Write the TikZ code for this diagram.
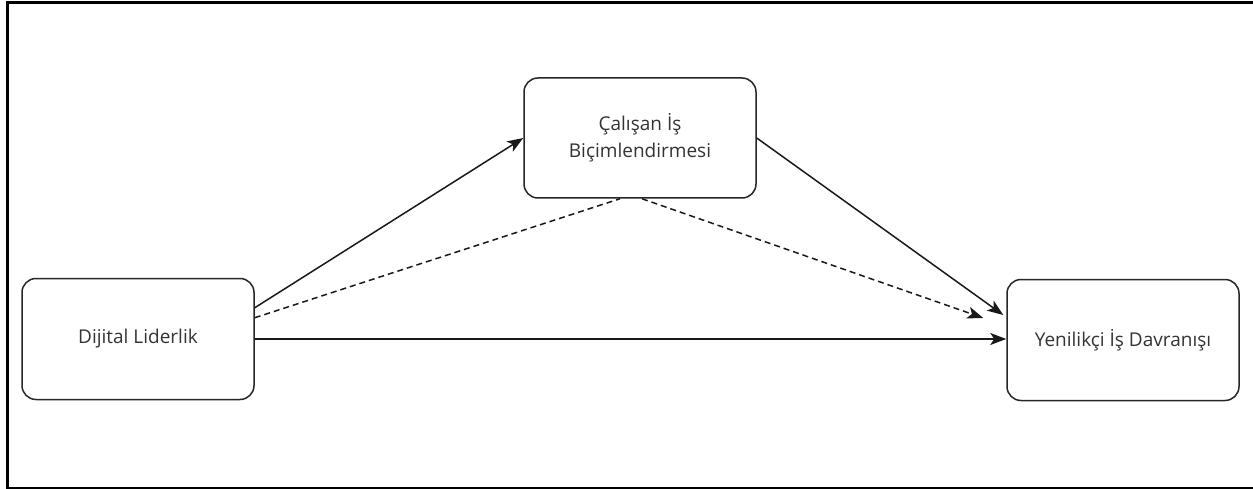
\documentclass[tikz,border=0pt]{standalone}
\usepackage{fontspec}
\setmainfont{Open Sans}
\usetikzlibrary{arrows.meta,calc}
\begin{document}
\begin{tikzpicture}[x=1pt,y=-1pt,
  box/.style={draw=black!85,line width=1.5pt,rounded corners=14pt,minimum width=232pt,minimum height=121pt,align=center,inner sep=0pt,text=black!80,font=\fontsize{19}{27}\selectfont},
  conn/.style={draw=black!90,line width=1.5pt,-{Stealth[length=16pt,width=12pt,inset=4pt]}},
  dconn/.style={conn,dash pattern=on 6pt off 4pt},
  dline/.style={draw=black!90,line width=1.5pt,dash pattern=on 6pt off 4pt},
  frame/.style={draw=black,line width=3pt}]
\useasboundingbox (0,0) rectangle (1253,489);
\draw[frame] (1253,3) -- (7,3) -- (7,488) -- (1253,488);
\node[box] (dl) at (138,339) {Dijital Liderlik};
\node[box,minimum height=120pt] (cib) at (640,138) {Çalışan İş\\Biçimlendirmesi};
\node[box] (yid) at (1123,340) {Yenilikçi İş Davranışı};
\draw[conn] ([yshift=-30pt]dl.north east) -- (cib.west);
\draw[dline] ([yshift=-40pt]dl.north east) -- ([xshift=-20pt]cib.south);
\draw[dconn] ([xshift=2pt]cib.south) -- ([xshift=-23pt,yshift=22pt]yid.west);
\draw[conn] (cib.east) -- ([xshift=-3pt,yshift=25pt]yid.west);
\draw[conn] (dl.east) -- (dl.east -| yid.west);
\end{tikzpicture}
\end{document}
